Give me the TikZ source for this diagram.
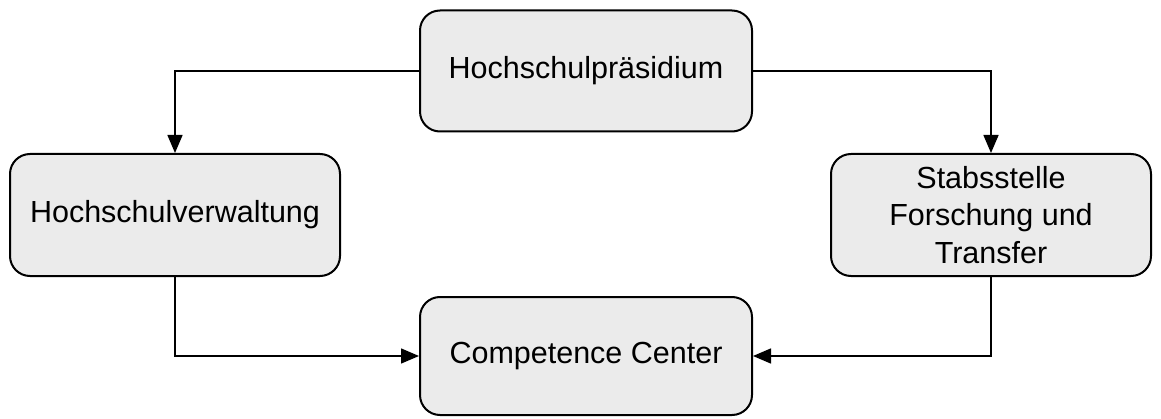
\documentclass[tikz,border=0pt]{standalone}
\usepackage{fontspec}
\setmainfont{Liberation Sans}
\usetikzlibrary{arrows.meta}
\definecolor{boxgray}{HTML}{EBEBEB}
\tikzset{
unit/.style={
	  draw, fill=boxgray, rounded corners=20pt, line width=2pt,
	    align=center, font=\fontsize{30.5}{37.5}\selectfont,
    inner sep=0pt},
link/.style={-{Triangle[length=18pt,width=15pt]}, line width=1.5pt}
}

\begin{document}
\begin{tikzpicture}[x=1pt, y=1pt]
	\useasboundingbox (0,0) rectangle (1161,418);
	\node[unit, minimum width=332pt, minimum height=121pt] (praes) at (586,347) {Hochschulpräsidium};
	\node[unit, minimum width=330pt, minimum height=122pt] (verw) at (175,203) {Hochschulverwaltung};
	\node[unit, minimum width=320pt, minimum height=122pt] (stab) at (991,203) {Stabsstelle\\Forschung und\\Transfer};
	\node[unit, minimum width=332pt, minimum height=118pt] (cc) at (586,62) {Competence Center};
	\draw[link] (praes.west) -| (verw.north);
	\draw[link] (praes.east) -| (stab.north);
	\draw[link] (verw.south) |- (cc.west);
	\draw[link] (stab.south) |- (cc.east);
\end{tikzpicture}
\end{document}
